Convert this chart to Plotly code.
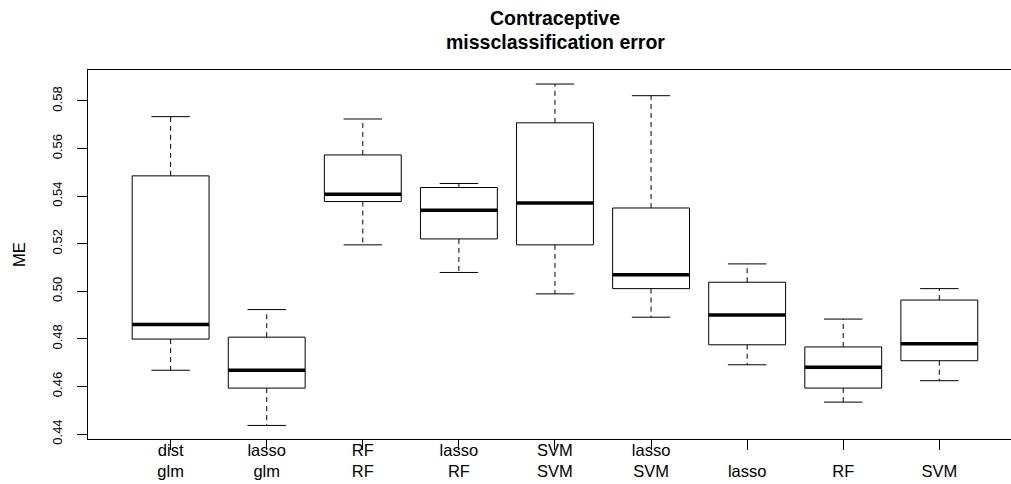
import plotly.graph_objects as go

# ---- data ----
labels = ["dist<br>glm", "lasso<br>glm", "RF<br>RF", "lasso<br>RF", "SVM<br>SVM",
          "lasso<br>SVM", "\u00a0<br>lasso", "\u00a0<br>RF", "\u00a0<br>SVM"]
lower = [0.4668, 0.4436, 0.5195, 0.5079, 0.4989, 0.4891, 0.4691, 0.4534, 0.4624]
q1 = [0.4799, 0.4593, 0.5377, 0.5220, 0.5195, 0.5011, 0.4775, 0.4593, 0.4708]
median = [0.4860, 0.4668, 0.5408, 0.5341, 0.5371, 0.5069, 0.4900, 0.4681, 0.4779]
q3 = [0.5485, 0.4807, 0.5573, 0.5436, 0.5708, 0.5350, 0.5038, 0.4766, 0.4963]
upper = [0.5734, 0.4923, 0.5724, 0.5453, 0.5871, 0.5822, 0.5115, 0.4883, 0.5011]
yticks = [0.44, 0.46, 0.48, 0.50, 0.52, 0.54, 0.56, 0.58]

pos = list(range(1, len(labels) + 1))
half_box = 0.4
half_cap = 0.2

FONT = "Liberation Sans, Arial, sans-serif"

wx, wy = [], []
for p, lo, a, b, hi in zip(pos, lower, q1, q3, upper):
    wx += [p, p, None, p, p, None]
    wy += [b, hi, None, a, lo, None]

cx, cy = [], []
for p, lo, hi in zip(pos, lower, upper):
    cx += [p - half_cap, p + half_cap, None, p - half_cap, p + half_cap, None]
    cy += [hi, hi, None, lo, lo, None]

bx, by = [], []
for p, a, b in zip(pos, q1, q3):
    bx += [p - half_box, p + half_box, p + half_box, p - half_box, p - half_box, None]
    by += [a, a, b, b, a, None]

mx, my = [], []
for p, m in zip(pos, median):
    mx += [p - half_box, p + half_box, None]
    my += [m, m, None]

fig = go.Figure()
fig.add_trace(go.Scatter(x=wx, y=wy, mode="lines", hoverinfo="skip",
                         line=dict(color="black", width=1, dash="5px,4px")))
fig.add_trace(go.Scatter(x=cx, y=cy, mode="lines", hoverinfo="skip",
                         line=dict(color="black", width=1)))
fig.add_trace(go.Scatter(x=bx, y=by, mode="lines", hoverinfo="skip",
                         line=dict(color="black", width=1)))
fig.add_trace(go.Scatter(x=mx, y=my, mode="lines", hoverinfo="skip",
                         line=dict(color="black", width=3.5)))

fig.update_layout(
    width=1011, height=484,
    margin=dict(l=88, r=0, t=70, b=45, autoexpand=False),
    paper_bgcolor="white", plot_bgcolor="white",
    showlegend=False,
    font=dict(family=FONT, color="black"),
    xaxis=dict(
        range=[0.14, 9.746], tickmode="array", tickvals=pos, ticktext=labels,
        showgrid=False, zeroline=False, automargin=False,
        showline=True, linecolor="black", linewidth=1, mirror=True,
        ticks="outside", ticklen=10, tickcolor="black", tickwidth=1,
        tickfont=dict(size=16.5, family=FONT, color="black"),
        ticklabelstandoff=-14,
    ),
    yaxis=dict(
        range=[0.4379, 0.5930], tickmode="array", tickvals=yticks,
        ticktext=[f"{v:.2f}" for v in yticks],
        showgrid=False, zeroline=False, automargin=False,
        showline=True, linecolor="black", linewidth=1, mirror=False,
        ticks="outside", ticklen=10, tickcolor="black", tickwidth=1,
        tickangle=-90,
        tickfont=dict(size=13, family=FONT, color="black"),
        ticklabelstandoff=10,
        title=dict(text="ME", font=dict(size=16.5, family=FONT, color="black"), standoff=20),
    ),
    annotations=[
        dict(text="<b>Contraceptive</b>", xref="paper", yref="paper", x=0.506, y=1,
             yanchor="middle", xanchor="center", yshift=52, showarrow=False,
             font=dict(size=19.5, family=FONT, color="black")),
        dict(text="<b>missclassification error</b>", xref="paper", yref="paper", x=0.506, y=1,
             yanchor="middle", xanchor="center", yshift=28, showarrow=False,
             font=dict(size=19.5, family=FONT, color="black")),
    ],
)

fig.write_html("out.html")
